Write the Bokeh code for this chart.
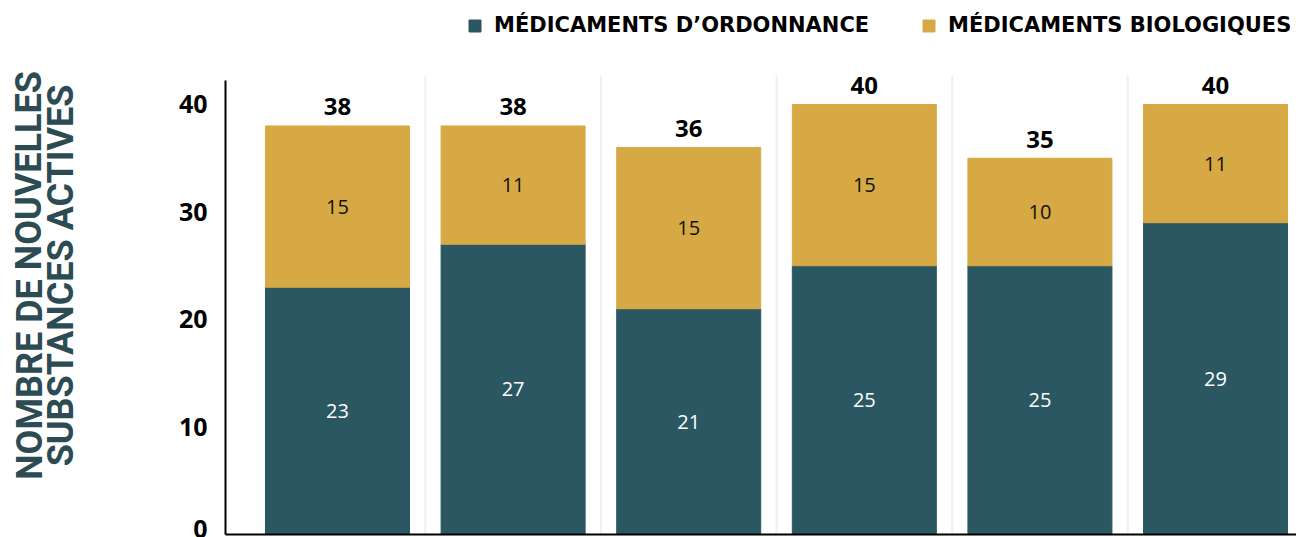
from bokeh.plotting import figure
from bokeh.models import (ColumnDataSource, Range1d, FixedTicker, Label, Legend,
                          LegendItem, LabelSet)
from bokeh.core.properties import value
from bokeh.embed import file_html
from bokeh.resources import INLINE

# ---- data ----
categories = ["1", "2", "3", "4", "5", "6"]
ordonnance = [23, 27, 21, 25, 25, 29]
biologiques = [15, 11, 15, 15, 10, 11]
y_ticks = [0, 10, 20, 30, 40]
series_names = ["MÉDICAMENTS D’ORDONNANCE", "MÉDICAMENTS BIOLOGIQUES"]
axis_title = ["NOMBRE DE NOUVELLES", "SUBSTANCES ACTIVES"]

TEAL = "#2a5761"
GOLD = "#d6a944"
TITLE_COL = "#2c4b52"

W, H = 1296, 537
X_LEFT, X_RIGHT = -1.919, 5.461
Y_BOTTOM, Y_TOP = -0.279, 49.67
AXIS_X = -0.6378
AXIS_TOP = 42.23

xs = list(range(len(categories)))
totals = [a + b for a, b in zip(ordonnance, biologiques)]
src = ColumnDataSource(dict(
    x=xs,
    bottom0=[0] * len(xs),
    top0=ordonnance,
    top1=totals,
    mid0=[v / 2 for v in ordonnance],
    mid1=[a + b / 2 for a, b in zip(ordonnance, biologiques)],
    lab0=[str(v) for v in ordonnance],
    lab1=[str(v) for v in biologiques],
    labt=[str(v) for v in totals],
))

p = figure(width=W, height=H, output_backend="svg", toolbar_location=None,
           x_range=Range1d(X_LEFT, X_RIGHT), y_range=Range1d(Y_BOTTOM, Y_TOP),
           min_border=0, outline_line_color=None)
p.min_border_left = 0
p.min_border_right = 0
p.min_border_top = 0
p.min_border_bottom = 0

# separators between categories
bounds_x = [x + 0.5 for x in xs[:-1]]
p.segment(x0=bounds_x, y0=[0] * len(bounds_x), x1=bounds_x, y1=[42.7] * len(bounds_x),
          line_color="#efefef", line_width=2)

r0 = p.vbar(x="x", bottom="bottom0", top="top0", width=0.82, color=TEAL, source=src)
r1 = p.vbar(x="x", bottom="top0", top="top1", width=0.82, color=GOLD, source=src)

p.add_layout(LabelSet(x="x", y="mid0", text="lab0", source=src, text_align="center",
                      text_baseline="middle", text_color="white",
                      text_font=value("Open Sans"), text_font_size="20px"))
p.add_layout(LabelSet(x="x", y="mid1", text="lab1", source=src, text_align="center",
                      text_baseline="middle", text_color="#111111",
                      text_font=value("Open Sans"), text_font_size="20px"))
p.add_layout(LabelSet(x="x", y="top1", text="labt", source=src, text_align="center",
                      text_baseline="middle", y_offset=19, text_color="black",
                      text_font=value("Open Sans"), text_font_style="bold",
                      text_font_size="24px"))

# axes (fixed inside the canvas-wide frame)
p.xaxis.fixed_location = 0
p.xaxis.bounds = (AXIS_X, X_RIGHT)
p.xaxis.ticker = FixedTicker(ticks=[])
p.xaxis.major_label_text_font_size = "0px"
p.xaxis.major_tick_line_color = None
p.xaxis.minor_tick_line_color = None
p.xaxis.axis_line_width = 2
p.xaxis.axis_line_color = "black"

p.yaxis.fixed_location = AXIS_X
p.yaxis.bounds = (0, AXIS_TOP)
p.yaxis.ticker = FixedTicker(ticks=y_ticks)
p.yaxis.major_tick_line_color = None
p.yaxis.minor_tick_line_color = None
p.yaxis.axis_line_width = 2
p.yaxis.axis_line_color = "black"
p.yaxis.major_label_text_font = "Open Sans"
p.yaxis.major_label_text_font_style = "bold"
p.yaxis.major_label_text_font_size = "25px"
p.yaxis.major_label_text_color = "black"
p.yaxis.major_label_standoff = 12

p.xgrid.grid_line_color = None
p.ygrid.grid_line_color = None

# y-axis title (two lines, rotated)
for txt, xpos in zip(axis_title, [29, 60.5]):
    p.add_layout(Label(x=xpos, y=H - 275, x_units="screen", y_units="screen",
                       text=txt, angle=1.5708, text_align="center",
                       text_baseline="middle", text_color=TITLE_COL,
                       text_font="Roboto", text_font_style="bold",
                       text_font_size="36px"))

# legends
for r, name, lx in [(r0, series_names[0], 467), (r1, series_names[1], 921)]:
    lg = Legend(items=[LegendItem(label=name, renderers=[r])], location=(lx, 500),
                orientation="horizontal", glyph_width=15, glyph_height=15,
                label_standoff=12, padding=0, margin=0, border_line_color=None,
                background_fill_alpha=0, label_text_font="DejaVu Sans",
                label_text_font_style="bold", label_text_font_size="21px",
                label_text_color="black")
    p.add_layout(lg, "center")

open("out.html", "w").write(file_html(p, INLINE))
